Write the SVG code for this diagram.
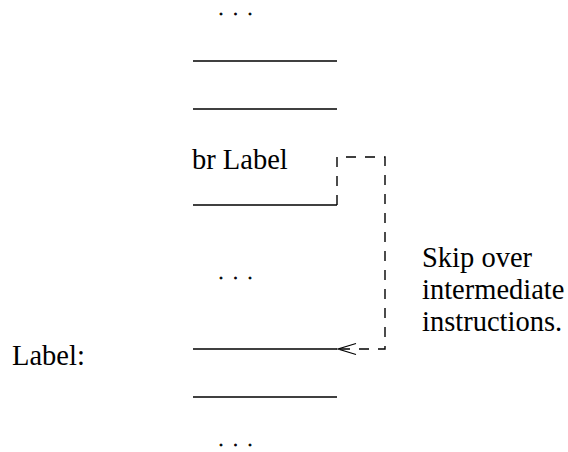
<svg xmlns="http://www.w3.org/2000/svg" width="568" height="452" viewBox="0 0 568 452">
<style>
.t{font-family:"Liberation Serif","Times New Roman",serif;font-size:28.5px;fill:#000}
.d{font-family:"Liberation Serif","Times New Roman",serif;font-size:16px;fill:#000;stroke:#000;stroke-width:0.9}
.ln{stroke:#000;stroke-width:1.4;fill:none}
.dash{stroke:#000;stroke-width:1.4;fill:none;stroke-dasharray:10,9}
</style>
<rect width="568" height="452" fill="#fff"/>
<g id="dots-top"><text class="d" x="219 233.5 248" y="15">...</text></g>
<g id="slot1"><line class="ln" x1="193" y1="61" x2="337" y2="61"/></g>
<g id="slot2"><line class="ln" x1="193" y1="109" x2="337" y2="109"/></g>
<g id="branch"><text class="t" x="192" y="169">br Label</text><line class="ln" x1="193" y1="205" x2="337" y2="205"/></g>
<g id="dots-mid"><text class="d" x="219 233.5 248" y="279">...</text></g>
<g id="target"><text class="t" x="12" y="365">Label:</text><line class="ln" x1="193" y1="349" x2="337" y2="349"/></g>
<g id="slot3"><line class="ln" x1="193" y1="397" x2="337" y2="397"/></g>
<g id="dots-bot"><text class="d" x="219 233.5 248" y="446">...</text></g>
<g id="note"><text class="t" x="422" y="267">Skip over</text><text class="t" x="422" y="299">intermediate</text><text class="t" x="422" y="331">instructions.</text></g>
<g id="connectors">
<path class="dash" d="M337,205 V157 H385 V349 H339"/>
<path d="M356,343.5 L338,349 L356,354.5" fill="none" stroke="#000" stroke-width="1.2"/>
</g>
</svg>
